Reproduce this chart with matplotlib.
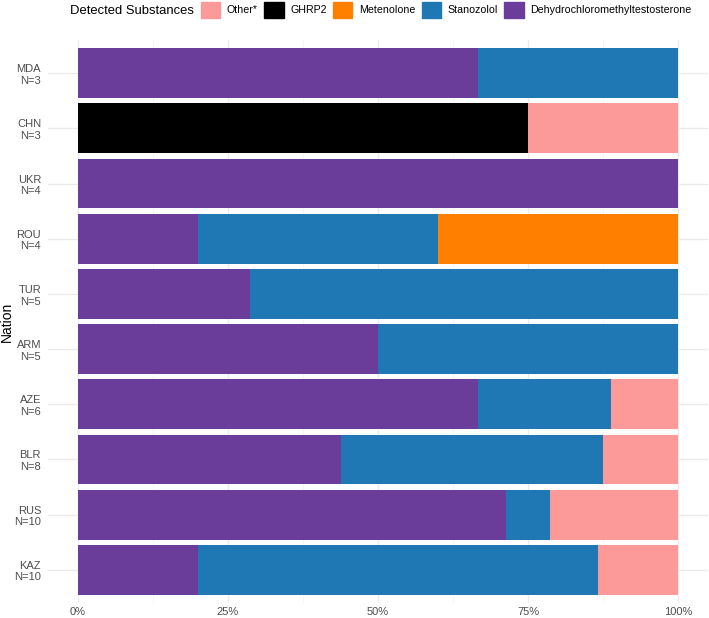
import numpy as np
import matplotlib.pyplot as plt
import matplotlib as mpl
from matplotlib.patches import Patch

mpl.rcParams['font.family'] = ['Liberation Sans', 'DejaVu Sans']

nations = ['MDA\nN=3', 'CHN\nN=3', 'UKR\nN=4', 'ROU\nN=4', 'TUR\nN=5',
           'ARM\nN=5', 'AZE\nN=6', 'BLR\nN=8', 'RUS\nN=10', 'KAZ\nN=10']
# share of each substance per nation, stacked left to right
dehydro = [0.667, 0, 1.0, 0.2, 0.286, 0.5, 0.667, 0.4375, 0.714, 0.2]
stanozolol = [0.333, 0, 0, 0.4, 0.714, 0.5, 0.222, 0.4375, 0.072, 0.667]
metenolone = [0, 0, 0, 0.4, 0, 0, 0, 0, 0, 0]
ghrp2 = [0, 0.75, 0, 0, 0, 0, 0, 0, 0, 0]
other = [0, 0.25, 0, 0, 0, 0, 0.111, 0.125, 0.214, 0.133]

series = [('Dehydrochloromethyltestosterone', dehydro, '#6A3D9A'),
          ('Stanozolol', stanozolol, '#1F78B4'),
          ('Metenolone', metenolone, '#FF7F00'),
          ('GHRP2', ghrp2, '#000000'),
          ('Other*', other, '#FB9A99')]

W, H = 709, 618
fig = plt.figure(figsize=(W / 100, H / 100), dpi=100)
# panel: x 48..708, y 40..603 (pixels from top)
ax = fig.add_axes([48 / W, (H - 603) / H, 660 / W, 563 / H])

y = np.arange(len(nations))
left = np.zeros(len(nations))
for name, vals, col in series:
    vals = np.array(vals)
    ax.barh(y, vals, left=left, height=0.9, color=col, linewidth=0, zorder=3)
    left += vals

ax.set_ylim(len(nations) - 0.4, -0.6)
ax.set_xlim(-0.05, 1.05)
ax.set_yticks(y)
ax.set_yticklabels(nations, fontsize=8, color='#4D4D4D', ha='right')
ax.set_xticks([0, 0.25, 0.5, 0.75, 1])
ax.set_xticklabels(['0%', '25%', '50%', '75%', '100%'], fontsize=8, color='#4D4D4D')
ax.set_xticks([0.125, 0.375, 0.625, 0.875], minor=True)
ax.tick_params(axis='y', length=0, pad=5)
ax.tick_params(axis='x', length=0, pad=3)
ax.tick_params(which='minor', length=0)
ax.grid(True, which='major', color='#EBEBEB', linewidth=1.0, zorder=0)
ax.grid(True, which='minor', axis='x', color='#F2F2F2', linewidth=0.5, zorder=0)
for s in ax.spines.values():
    s.set_visible(False)
ax.set_ylabel('Nation', fontsize=10)
ax.yaxis.set_label_coords((14 - 48) / 660, 0.5)

# legend on top: title on the left, keys in one row
fig.text(70 / W, 1 - 11 / H, 'Detected Substances', fontsize=9.4, ha='left', va='center')
handles = [Patch(facecolor=c, edgecolor=c) for n, v, c in series[::-1]]
labels = [n for n, v, c in series[::-1]]
fig.legend(handles, labels, loc='center left', bbox_to_anchor=(201 / W, 1 - 10 / H), ncol=5,
           frameon=False, fontsize=7.7, handlelength=1.8, handleheight=1.8,
           handletextpad=0.62, columnspacing=0.6, borderaxespad=0, borderpad=0)

fig.savefig('out.png', dpi=100)
